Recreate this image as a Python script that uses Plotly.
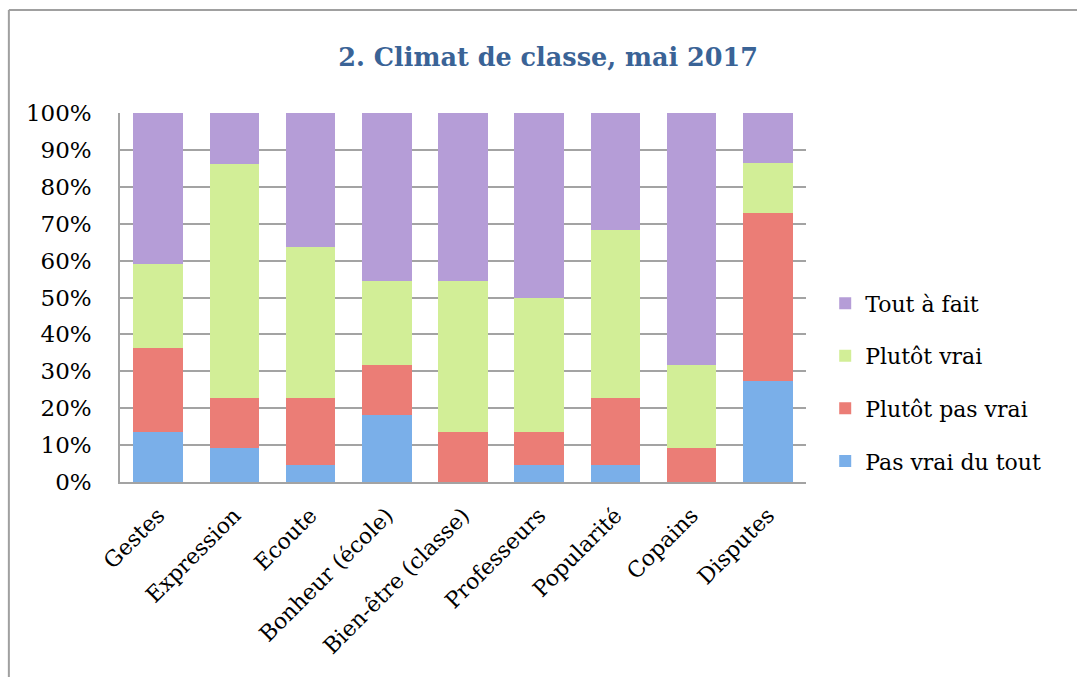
import plotly.graph_objects as go

categories = ["Gestes", "Expression", "Ecoute", "Bonheur (école)", "Bien-être (classe)",
              "Professeurs", "Popularité", "Copains", "Disputes"]
series_names = ["Pas vrai du tout", "Plutôt pas vrai", "Plutôt vrai", "Tout à fait"]
# percentages (class of 22 pupils)
pas_vrai_du_tout = [13.6, 9.1, 4.5, 18.2, 0.0, 4.5, 4.5, 0.0, 27.3]
plutot_pas_vrai = [22.7, 13.6, 18.2, 13.6, 13.6, 9.1, 18.2, 9.1, 45.5]
plutot_vrai = [22.7, 63.6, 40.9, 22.7, 40.9, 36.4, 45.5, 22.7, 13.6]
tout_a_fait = [40.9, 13.6, 36.4, 45.5, 45.5, 50.0, 31.8, 68.2, 13.6]
tick_vals = [0, 10, 20, 30, 40, 50, 60, 70, 80, 90, 100]
tick_text = [f"{v}%" for v in tick_vals]

colors = ["#7AAFE9", "#EB7D76", "#D2EE97", "#B59DD7"]
values = [pas_vrai_du_tout, plutot_pas_vrai, plutot_vrai, tout_a_fait]
legend_ranks = [4, 3, 2, 1]

serif = "DejaVu Serif, serif"

fig = go.Figure()
for name, vals, col, rank in zip(series_names, values, colors, legend_ranks):
    fig.add_trace(go.Bar(
        x=categories, y=vals, name=name, legendgroup=name, legendrank=rank,
        marker=dict(color=col, line=dict(width=0)),
    ))

fig.update_layout(
    width=1077, height=677,
    barmode="stack", bargap=0.35,
    plot_bgcolor="white", paper_bgcolor="white",
    margin=dict(l=120, r=271, t=113, b=195),
    title=dict(text="<b>2. Climat de classe, mai 2017</b>", x=0.509, xanchor="center",
               y=0.915, yanchor="middle",
               font=dict(family=serif, size=25.5, color="#3A6396")),
    font=dict(family=serif, color="black"),
    showlegend=True,
    legend=dict(x=1.028, xanchor="left", y=0.27, yanchor="middle",
                traceorder="grouped", tracegroupgap=21,
                font=dict(family=serif, size=22, color="black"),
                itemwidth=30),
    yaxis=dict(range=[0, 100], tickvals=tick_vals, ticktext=tick_text,
               showgrid=True, gridcolor="#A3A3A3", gridwidth=1.5,
               showline=True, linecolor="#A3A3A3", linewidth=1.5,
               ticks="", ticklabelstandoff=22, zeroline=False,
               tickfont=dict(family=serif, size=23, color="black")),
    xaxis=dict(tickangle=-45, showline=True, linecolor="#A3A3A3", linewidth=1.5,
               ticks="", ticklabelstandoff=10,
               tickfont=dict(family=serif, size=22, color="black")),
    shapes=[
        dict(type="line", xref="paper", yref="paper", x0=-0.162, x1=1.6, y0=1.279, y1=1.279,
             line=dict(color="#A0A0A0", width=2)),
        dict(type="line", xref="paper", yref="paper", x0=-0.162, x1=-0.162, y0=-0.6, y1=1.279,
             line=dict(color="#A0A0A0", width=2)),
    ],
)

fig.write_html("out.html", config={"displayModeBar": False},
               post_script="document.body.style.margin='0';")
